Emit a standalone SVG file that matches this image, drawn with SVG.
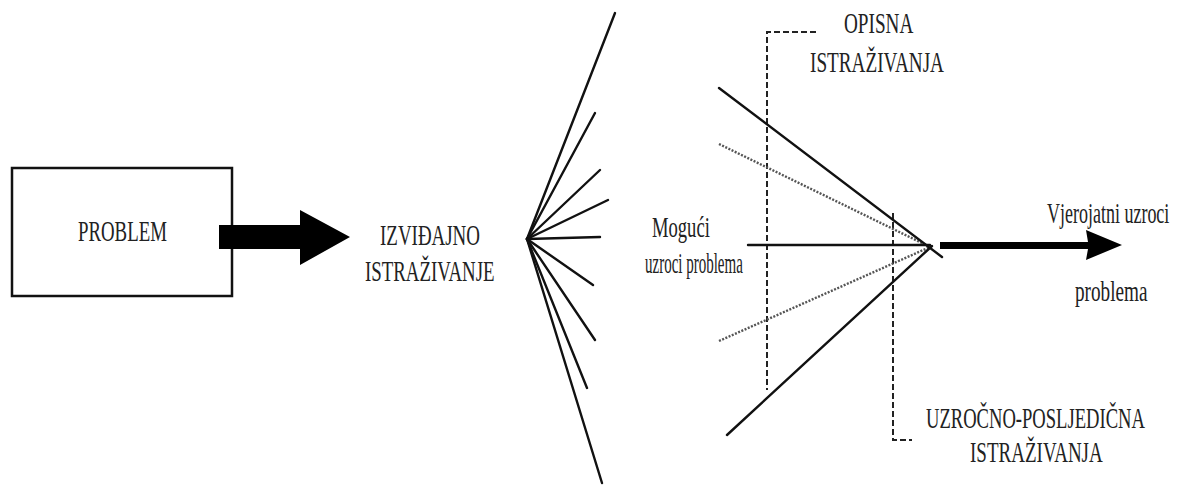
<svg xmlns="http://www.w3.org/2000/svg" width="1178" height="486" viewBox="0 0 1178 486">
<style>
  .t { font-family: "Liberation Serif", "Times New Roman", serif; font-size: 30px; fill: #222; }
  .ln { stroke: #111; stroke-width: 2.4; fill: none; stroke-linecap: round; }
  .dot { stroke: #555; stroke-width: 2.4; fill: none; stroke-dasharray: 2 1.5; }
  .dash { stroke: #222; stroke-width: 2; fill: none; stroke-dasharray: 6 3; }
</style>
<rect width="1178" height="486" fill="#fff"/>
<g id="problem">
  <rect x="12" y="168" width="220" height="128" fill="#fff" stroke="#111" stroke-width="2.5"/>
  <text class="t" transform="translate(78,241) scale(0.628,1)">PROBLEM</text>
</g>
<g id="izvidajno">
  <text class="t" transform="translate(380,245) scale(0.632,1)">IZVIĐAJNO</text>
  <text class="t" transform="translate(365,281) scale(0.629,1)">ISTRAŽIVANJE</text>
</g>
<g id="moguci">
  <text class="t" transform="translate(652,237) scale(0.62,1)">Mogući</text>
  <text class="t" transform="translate(645,273) scale(0.5,1)">uzroci problema</text>
</g>
<g id="opisna">
  <text class="t" transform="translate(844,33) scale(0.64,1)">OPISNA</text>
  <text class="t" transform="translate(810,72) scale(0.64,1)">ISTRAŽIVANJA</text>
</g>
<g id="vjerojatni">
  <text class="t" transform="translate(1047,223) scale(0.6,1)">Vjerojatni uzroci</text>
  <text class="t" transform="translate(1075,301) scale(0.64,1)">problema</text>
</g>
<g id="uzrocno">
  <text class="t" transform="translate(926,428) scale(0.62,1)">UZROČNO-POSLJEDIČNA</text>
  <text class="t" transform="translate(970,462) scale(0.634,1)">ISTRAŽIVANJA</text>
</g>
<g id="connectors">
  <polygon points="219,225 300,225 300,210 350,237 300,265 300,249 219,249" fill="#000"/>
  <g class="ln">
    <line x1="527" y1="239" x2="615" y2="13"/>
    <line x1="527" y1="239" x2="595" y2="113"/>
    <line x1="527" y1="239" x2="600" y2="170"/>
    <line x1="527" y1="239" x2="608" y2="200"/>
    <line x1="527" y1="239" x2="600" y2="237"/>
    <line x1="527" y1="239" x2="593" y2="285"/>
    <line x1="527" y1="239" x2="595" y2="340"/>
    <line x1="527" y1="239" x2="587" y2="388"/>
    <line x1="527" y1="239" x2="602" y2="483"/>
  </g>
  <path class="dash" d="M816,32 H767 V390"/>
  <path class="dash" d="M893,213 V440 H912"/>
  <line class="dot" x1="719" y1="144" x2="930" y2="247"/>
  <line class="dot" x1="719" y1="341" x2="930" y2="247"/>
  <g class="ln">
    <line x1="719" y1="88" x2="942" y2="257"/>
    <line x1="727" y1="435" x2="932" y2="246"/>
    <line x1="748" y1="245" x2="930" y2="245"/>
  </g>
  <polygon points="940,242 1088,242 1086,230 1122,245 1086,260 1088,249 940,249" fill="#000"/>
</g>
</svg>
